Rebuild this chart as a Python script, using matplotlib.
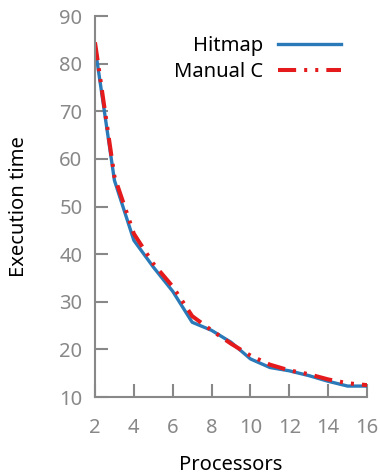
import matplotlib
matplotlib.use("Agg")
import matplotlib.pyplot as plt

processors = [2, 3, 4, 5, 6, 7, 8, 9, 10, 11, 12, 13, 14, 15, 16]
hitmap = [83.5, 55.5, 42.9, 37.3, 32.2, 25.7, 24.0, 21.5, 18.0, 16.2, 15.5, 14.5, 13.3, 12.3, 12.3]
manual_c = [84.5, 56.3, 44.3, 38.0, 33.2, 27.0, 24.0, 21.2, 18.7, 16.8, 15.6, 14.8, 13.7, 12.9, 12.5]
xticks = [2, 4, 6, 8, 10, 12, 14, 16]
yticks = [10, 20, 30, 40, 50, 60, 70, 80, 90]

plt.rcParams['font.family'] = ['Noto Sans', 'DejaVu Sans']

fig = plt.figure(figsize=(3.8, 4.74), dpi=100)
ax = fig.add_axes([0.25, 0.1624, 0.716, 0.8036])

ax.plot(processors, hitmap, color='#2a7ab9', lw=2.4, label='Hitmap', solid_joinstyle='round')
ax.plot(processors, manual_c, color='#e41a1c', lw=2.9, label='Manual C',
        dashes=(4.5, 2, 0.75, 2, 0.75, 2))

ax.set_xlim(2, 16)
ax.set_ylim(10, 90)
ax.set_xticks(xticks)
ax.set_yticks(yticks)

gray = '#888888'
for s in ['top', 'right']:
    ax.spines[s].set_visible(False)
for s in ['left', 'bottom']:
    ax.spines[s].set_color(gray)
    ax.spines[s].set_linewidth(1.5)

ax.tick_params(axis='both', direction='in', length=9.5, width=1.5, color=gray,
               labelcolor=gray, labelsize=14.5)
ax.tick_params(axis='y', pad=9)
ax.tick_params(axis='x', pad=15)

ax.set_xlabel('Processors', fontsize=14.5, labelpad=12)
ax.set_ylabel('Execution time', fontsize=14.5, labelpad=22)

ax.legend(loc='upper right', frameon=False, markerfirst=False, fontsize=14.5,
          handlelength=3.1, handletextpad=0.75, labelspacing=0.3,
          bbox_to_anchor=(0.969, 0.995))

fig.savefig('out.png', dpi=100, facecolor='white')
